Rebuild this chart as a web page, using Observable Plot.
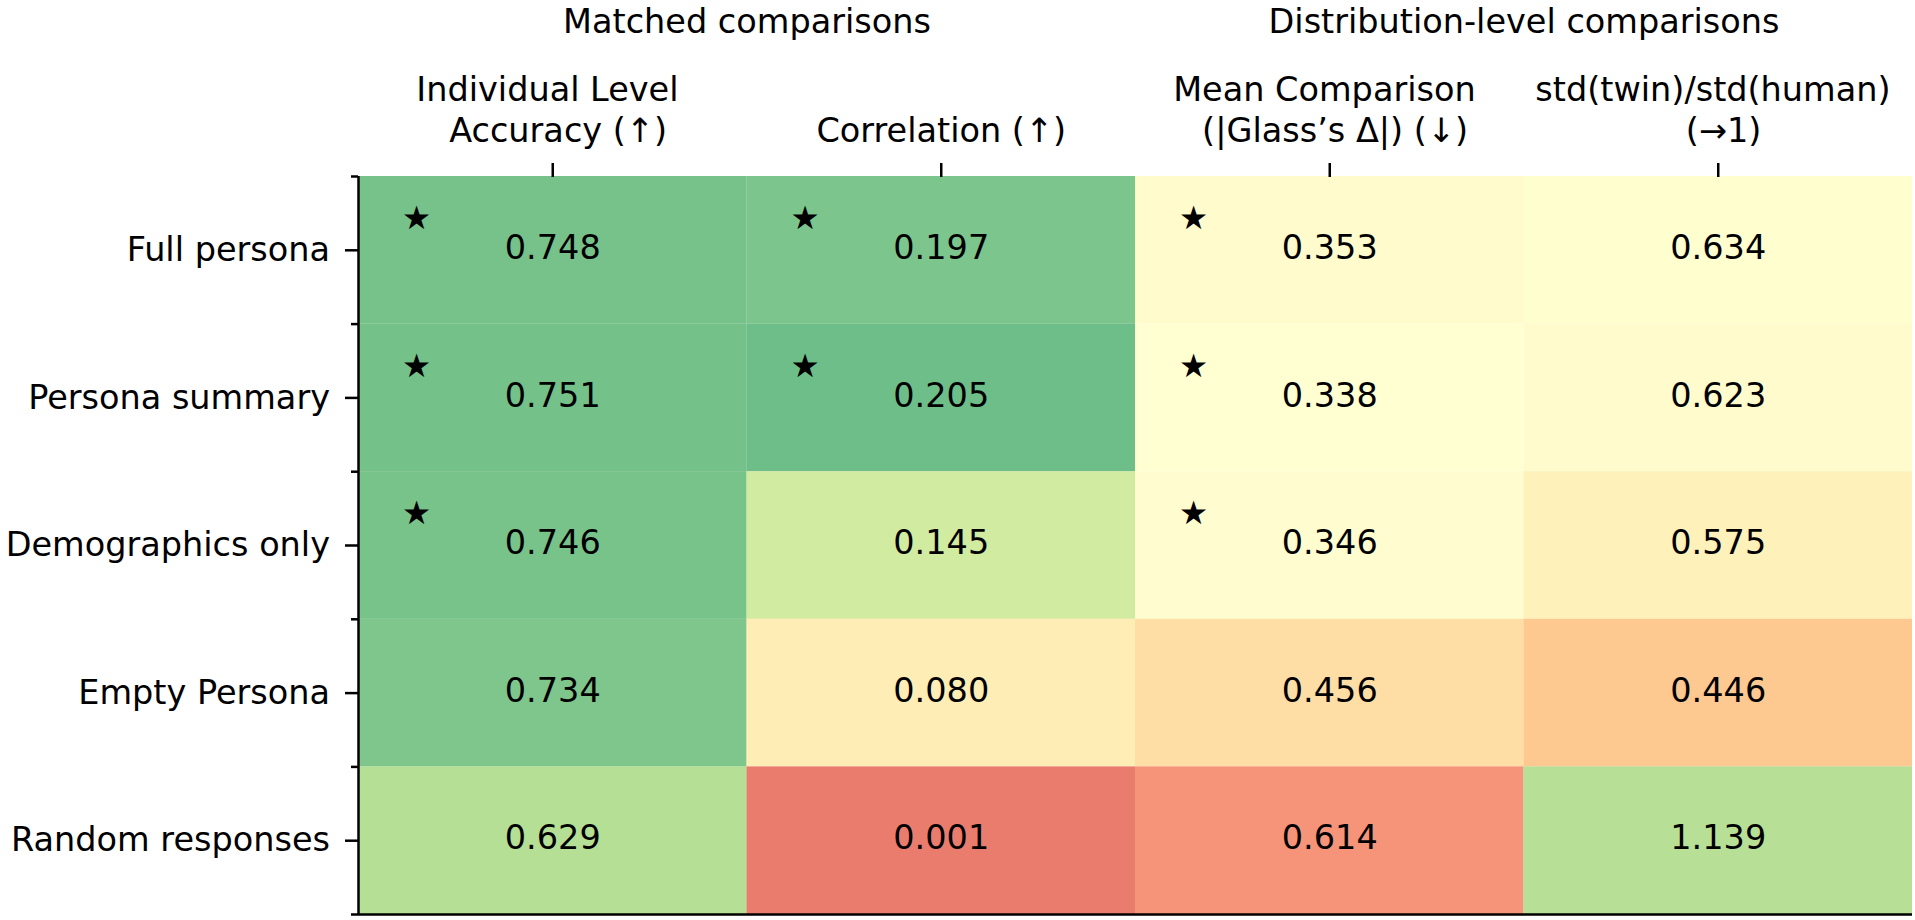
<!DOCTYPE html>
<html><head><meta charset="utf-8">
<script src="https://cdn.jsdelivr.net/npm/d3@7"></script>
<script src="https://cdn.jsdelivr.net/npm/@observablehq/plot@0.6"></script>
<style>html,body{margin:0;padding:0;background:#fff} svg{display:block}</style>
</head><body><div id="chart"></div>
<script>
// ---- data ----
const rows = ["Full persona", "Persona summary", "Demographics only", "Empty Persona", "Random responses"];
const columns = [
  "Individual Level\u00a0\n\u00a0Accuracy (↑)",
  "Correlation (↑)",
  "Mean Comparison\u00a0\n\u00a0(|Glass’s Δ|) (↓)",
  "std(twin)/std(human)\u00a0\n\u00a0(→1)"
];
const groups = ["Matched comparisons", "Distribution-level comparisons"];
const groupFirstCol = [0, 2];
const groupLastCol = [1, 3];

const accuracy    = [0.748, 0.751, 0.746, 0.734, 0.629];
const correlation = [0.197, 0.205, 0.145, 0.080, 0.001];
const glassDelta  = [0.353, 0.338, 0.346, 0.456, 0.614];
const stdRatio    = [0.634, 0.623, 0.575, 0.446, 1.139];

// star = marked in the reference
const accuracyStar    = [1, 1, 1, 0, 0];
const correlationStar = [1, 1, 0, 0, 0];
const glassDeltaStar  = [1, 1, 1, 0, 0];
const stdRatioStar    = [0, 0, 0, 0, 0];

// ---- build table ----
const valueCols = [accuracy, correlation, glassDelta, stdRatio];
const starCols = [accuracyStar, correlationStar, glassDeltaStar, stdRatioStar];
// colour normalisation per column (goodness score in [0,1] for RdYlGn)
const scoreFns = [
  v => 0.725 + 1.1 * (v - 0.629),
  v => 0.13 + 3.62 * v,
  v => 0.50 - 1.12 * (v - 0.338),
  v => 0.72 - 1.0 * (Math.abs(v - 1) - 0.139)
];
const cells = [];
columns.forEach((c, ci) => rows.forEach((r, ri) => {
  const v = valueCols[ci][ri];
  cells.push({ci, ri, column: c, row: r, value: v, score: scoreFns[ci](v), star: starCols[ci][ri] === 1});
}));

const RdYlGn = ["#a50026","#d73027","#f46d43","#fdae61","#fee08b","#ffffbf","#d9ef8b","#a6d96a","#66bd63","#1a9850","#006837"];
const fs = 33.5;

const chart = Plot.plot({
  width: 1915, height: 920,
  marginLeft: 358, marginRight: 3, marginTop: 176, marginBottom: 6,
  style: {fontFamily: "DejaVu Sans", background: "#fff", color: "#000"},
  x: {domain: [0, columns.length], axis: null},
  y: {domain: [0, rows.length], reverse: true, axis: null},
  color: {type: "linear", domain: RdYlGn.map((_, i) => i / 10), range: RdYlGn, interpolate: "rgb", clamp: true},
  marks: [
    Plot.rect(cells, {x1: "ci", x2: d => d.ci + 1, y1: "ri", y2: d => d.ri + 1, fill: "score", fillOpacity: 0.7}),
    Plot.text(cells, {x: d => d.ci + 0.5, y: d => d.ri + 0.5, text: d => d.value.toFixed(3), fontSize: fs, fill: "#000", dy: -2}),
    Plot.text(cells.filter(d => d.star), {x: "ci", y: "ri", text: () => "★", fontSize: 32.5, fill: "#000", dx: 58, dy: 42}),
    // y axis: labels at row centres, minor ticks at row edges
    Plot.axisY(rows.map((_, i) => i + 0.5), {tickFormat: d => rows[Math.floor(d)], tickSize: 13, tickPadding: 15.5, fontSize: fs, strokeWidth: 2.5, label: null, fill: "#000"}),
    Plot.axisY(d3.range(rows.length + 1), {tickFormat: () => "", tickSize: 7, strokeWidth: 2.5, label: null}),
    // top x axis with column labels
    Plot.axisX(columns.map((_, i) => i + 0.5), {anchor: "top", tickFormat: d => columns[Math.floor(d)], tickSize: 14, tickPadding: 21, fontSize: fs, lineHeight: 1.22, strokeWidth: 2.5, label: null, fill: "#000"}),
    // group titles
    Plot.text(groups, {x: (d, i) => (groupFirstCol[i] + groupLastCol[i] + 1) / 2, frameAnchor: "top", dy: -144, lineAnchor: "bottom", fontSize: fs, fill: "#000"}),
    // spines
    Plot.ruleX([0], {strokeWidth: 2.5}),
    Plot.ruleY([rows.length], {strokeWidth: 2.5})
  ]
});
document.getElementById("chart").appendChild(chart);
</script>
</body></html>
